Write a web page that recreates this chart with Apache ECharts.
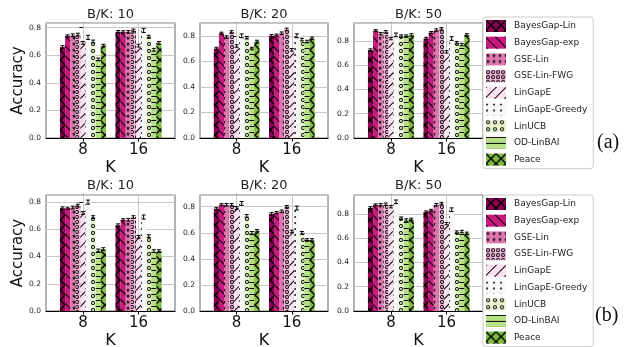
<!DOCTYPE html>
<html>
<head>
<meta charset="utf-8">
<script src="https://cdn.jsdelivr.net/npm/echarts@6/dist/echarts.min.js"></script>
<style>
  html, body { margin: 0; background: #fff; }
  #chart { width: 626px; height: 347px; }
</style>
</head>
<body>
<div id="chart"></div>
<script>
const methods = ["BayesGap-Lin", "BayesGap-exp", "GSE-Lin", "GSE-Lin-FWG", "LinGapE",
  "LinGapE-Greedy", "LinUCB", "OD-LinBAI", "Peace"];
const kLabels = ["8", "16"];
const budgets = ["10", "20", "50"];
const colors = ["#8e0152", "#c51b7d", "#de77ae", "#f1b6da", "#fde0ef",
  "#f7f7f7", "#e6f5d0", "#b8e186", "#7fbc41"];

// accuracy, one row per method: [K=8, K=16]
const a_bk10 = [[0.66, 0.77], [0.74, 0.77], [0.745, 0.77], [0.75, 0.78], [0.69, 0.67],
  [0.73, 0.78], [0.70, 0.735], [0.57, 0.64], [0.67, 0.69]];
const a_bk20 = [[0.70, 0.80], [0.82, 0.805], [0.79, 0.82], [0.83, 0.85], [0.72, 0.69],
  [0.80, 0.80], [0.785, 0.77], [0.70, 0.755], [0.755, 0.78]];
const a_bk50 = [[0.725, 0.82], [0.885, 0.87], [0.86, 0.89], [0.875, 0.90], [0.82, 0.71],
  [0.85, 0.82], [0.84, 0.785], [0.84, 0.77], [0.85, 0.85]];
const b_bk10 = [[0.755, 0.63], [0.755, 0.67], [0.76, 0.67], [0.775, 0.69], [0.72, 0.545],
  [0.80, 0.69], [0.69, 0.55], [0.445, 0.44], [0.455, 0.44]];
const b_bk20 = [[0.785, 0.745], [0.815, 0.755], [0.815, 0.765], [0.815, 0.80], [0.79, 0.61],
  [0.825, 0.79], [0.73, 0.60], [0.60, 0.545], [0.615, 0.545]];
const b_bk50 = [[0.85, 0.815], [0.875, 0.83], [0.875, 0.875], [0.88, 0.885], [0.86, 0.72],
  [0.90, 0.835], [0.765, 0.65], [0.75, 0.655], [0.755, 0.64]];
// half-width of the error bars, per method
const errs = [0.01, 0.008, 0.01, 0.01, 0.01, 0.015, 0.01, 0.01, 0.01];

const panelData = [a_bk10, a_bk20, a_bk50, b_bk10, b_bk20, b_bk50];
const yMax = [0.834, 0.9, 0.948, 0.852, 0.89, 0.956];

const FONT = "DejaVu Sans";
const BAR_STEP = 0.0918;
const gridLeft = [46, 200, 354];
const gridWidth = [129, 128, 129];
const gridTop = [23, 195];
const gridHeight = [115, 116];

// hatch patterns
const X_PATH = "path://M0,0L1,0L10,9L10,10L9,10L0,1Z M9,0L10,0L10,1L1,10L0,10L0,9Z";
const RING = "path://M5,0A5,5 0 1,1 5,10A5,5 0 1,1 5,0Z M5,2.2A2.8,2.8 0 1,0 5,7.8A2.8,2.8 0 1,0 5,2.2Z";
const STAR = "path://M5,0L6.2,3.6L10,3.6L6.9,5.9L8.1,9.5L5,7.3L1.9,9.5L3.1,5.9L0,3.6L3.8,3.6Z";
const decals = [
  { symbol: X_PATH, symbolSize: 1, dashArrayX: [10, 0], dashArrayY: [10, 0], color: "#000" },
  { symbol: "rect", symbolSize: 1, dashArrayX: [1, 0], dashArrayY: [1, 6], rotation: Math.PI / 4, color: "#000" },
  { symbol: STAR, symbolSize: 1, dashArrayX: [3.5, 1.5], dashArrayY: [3.5, 1.5], color: "#000" },
  { symbol: RING, symbolSize: 1, dashArrayX: [3.5, 0.6], dashArrayY: [3.5, 1], color: "#000" },
  { symbol: "rect", symbolSize: 1, dashArrayX: [1, 0], dashArrayY: [1, 6], rotation: -Math.PI / 4, color: "#000" },
  { symbol: "circle", symbolSize: 1, dashArrayX: [1.2, 4.5], dashArrayY: [1.2, 4], color: "#000" },
  { symbol: RING, symbolSize: 1, dashArrayX: [3.5, 2.5], dashArrayY: [3.5, 2.5], color: "#000" },
  { symbol: "rect", symbolSize: 1, dashArrayX: [1, 0], dashArrayY: [1, 5], color: "#000" },
  { symbol: X_PATH, symbolSize: 1, dashArrayX: [10, 0], dashArrayY: [10, 0], color: "#000" },
];

const grids = [], xAxes = [], yAxes = [], titles = [], series = [];

panelData.forEach((values, gi) => {
  const col = gi % 3, row = Math.floor(gi / 3);
  grids.push({
    left: gridLeft[col], top: gridTop[row], width: gridWidth[col], height: gridHeight[row],
    show: true, borderColor: "#808080", borderWidth: 1.2, backgroundColor: "#fff",
    outerBoundsMode: "none",
  });
  xAxes.push({
    gridIndex: gi, type: "value", min: -0.664, max: 1.656,
    name: "K", nameLocation: "middle", nameGap: 22,
    nameTextStyle: { fontFamily: FONT, fontSize: 16, color: "#111" },
    axisLine: { show: true, lineStyle: { color: "#000", width: 1 } },
    axisTick: { show: true, customValues: [0, 1], length: 3.5, lineStyle: { color: "#000" } },
    axisLabel: {
      customValues: [0, 1], formatter: v => kLabels[Math.round(v)],
      fontFamily: FONT, fontSize: 15, color: "#111", margin: 5,
    },
    splitLine: { show: false },
  });
  yAxes.push({
    gridIndex: gi, type: "value", min: 0, max: yMax[gi], interval: 0.2,
    name: col === 0 ? "Accuracy" : "", nameLocation: "middle", nameGap: 20,
    nameTextStyle: { fontFamily: FONT, fontSize: 15, color: "#111" },
    axisLine: { show: true, lineStyle: { color: "#000", width: 1 } },
    axisTick: { show: true, length: 3.5, lineStyle: { color: "#000" } },
    axisLabel: {
      formatter: v => v.toFixed(1), showMaxLabel: false,
      fontFamily: FONT, fontSize: 7.5, color: "#222", margin: 5,
    },
    splitLine: { show: true, lineStyle: { color: "#c8c8c8", width: 1 } },
  });
  titles.push({
    text: "B/K: " + budgets[col], left: gridLeft[col] + gridWidth[col] / 2, textAlign: "center",
    top: row === 0 ? 8 : 179, padding: 0,
    textStyle: { fontFamily: FONT, fontSize: 13, fontWeight: "normal", color: "#222" },
  });

  methods.forEach((name, m) => {
    const s = {
      name, type: "bar", xAxisIndex: gi, yAxisIndex: gi,
      barWidth: 5.1, barGap: "-100%",
      data: values[m].map((v, k) => [k + (m - 4) * BAR_STEP, v]),
      itemStyle: { color: colors[m], decal: decals[m] },
      emphasis: { disabled: true },
    };
    if (m === 0) {
      s.markLine = {
        silent: true, symbol: "none", z: 1, label: { show: false },
        lineStyle: { color: "#c8c8c8", width: 1, type: "solid" },
        data: [{ xAxis: 0 }, { xAxis: 1 }],
      };
    }
    series.push(s);
  });

  const errData = [];
  values.forEach((v, m) => v.forEach((y, k) => {
    errData.push([k + (m - 4) * BAR_STEP, y - errs[m], y + errs[m]]);
  }));
  series.push({
    type: "custom", xAxisIndex: gi, yAxisIndex: gi, z: 10, silent: true,
    data: errData, encode: { x: 0, y: [1, 2] },
    renderItem(params, api) {
      const x = api.value(0);
      const lo = api.coord([x, api.value(1)]);
      const hi = api.coord([x, api.value(2)]);
      const hw = 2;
      const st = { stroke: "#000", lineWidth: 1 };
      return {
        type: "group", children: [
          { type: "line", shape: { x1: lo[0], y1: lo[1], x2: hi[0], y2: hi[1] }, style: st },
          { type: "line", shape: { x1: lo[0] - hw, y1: lo[1], x2: lo[0] + hw, y2: lo[1] }, style: st },
          { type: "line", shape: { x1: hi[0] - hw, y1: hi[1], x2: hi[0] + hw, y2: hi[1] }, style: st },
        ],
      };
    },
  });
});

const legendBase = {
  orient: "vertical", left: 483, itemWidth: 20, itemHeight: 12, itemGap: 4.7,
  padding: [3, 6, 3, 3], borderColor: "#cccccc", borderWidth: 1, borderRadius: 3,
  backgroundColor: "#fff", selectedMode: false, icon: "rect",
  textStyle: { fontFamily: FONT, fontSize: 9, color: "#222", padding: [0, 0, 0, 3] },
  data: methods,
};

const chart = echarts.init(document.getElementById("chart"));
chart.setOption({
  animation: false,
  title: titles,
  grid: grids,
  xAxis: xAxes,
  yAxis: yAxes,
  legend: [
    Object.assign({}, legendBase, { top: 17 }),
    Object.assign({}, legendBase, { top: 195 }),
  ],
  graphic: [
    { type: "text", left: 597, top: 133, style: { text: "(a)", font: "20px 'Liberation Serif'", fill: "#111" } },
    { type: "text", left: 595, top: 306, style: { text: "(b)", font: "20px 'Liberation Serif'", fill: "#111" } },
  ],
  series,
});
</script>
</body>
</html>
